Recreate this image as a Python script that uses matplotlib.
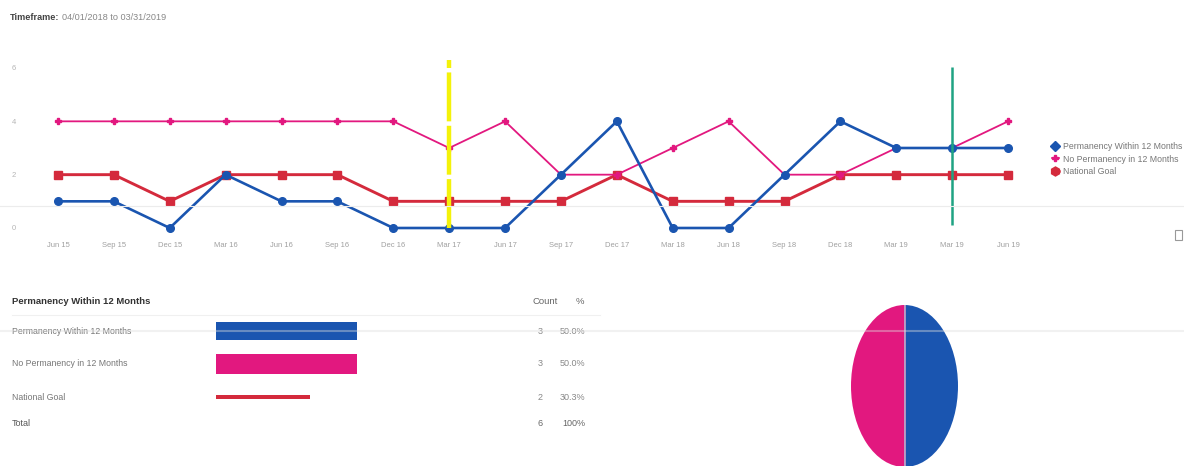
import matplotlib
matplotlib.use("Agg")
import matplotlib.pyplot as plt
from matplotlib.lines import Line2D
from matplotlib.text import Annotation

plt.rcParams['font.family'] = ['Liberation Sans', 'DejaVu Sans']

# ---- data ----
quarters = ["Jun 15", "Sep 15", "Dec 15", "Mar 16", "Jun 16", "Sep 16", "Dec 16",
            "Mar 17", "Jun 17", "Sep 17", "Dec 17", "Mar 18", "Jun 18", "Sep 18",
            "Dec 18", "Mar 19", "Mar 19", "Jun 19"]
permanency = [1, 1, 0, 2, 1, 1, 0, 0, 0, 2, 4, 0, 0, 2, 4, 3, 3, 3]
no_permanency = [4, 4, 4, 4, 4, 4, 4, 3, 4, 2, 2, 3, 4, 2, 2, 3, 3, 4]
national_goal = [2, 2, 1, 2, 2, 2, 1, 1, 1, 1, 2, 1, 1, 1, 2, 2, 2, 2]
y_ticks = [0, 2, 4, 6]
marker_quarters = [7, 16]  # yellow and green reference lines

series_names = ["Permanency Within 12 Months", "No Permanency in 12 Months", "National Goal"]
counts = [3, 3, 2]
percents = ["50.0%", "50.0%", "30.3%"]
total_count = 6
total_percent = "100%"

BLUE = "#1a55b0"
PINK = "#e2187f"
RED = "#d42a3c"

W, H = 1184, 466
fig = plt.figure(figsize=(W / 100, H / 100), dpi=100)
fig.patch.set_facecolor("white")


def fx(px):
    return px / W


def fy(py):
    return 1 - py / H


# ---- title ----
t_label = fig.text(fx(10), fy(17), "Timeframe:", fontsize=6.6, color="#444444",
                   fontweight="bold", va="center", ha="left")
fig.add_artist(Annotation("04/01/2018 to 03/31/2019", xy=(1, 0.5), xycoords=t_label,
                          xytext=(2, 0), textcoords="offset points", fontsize=6.6,
                          color="#888888", va="center", ha="left"))

# ---- line chart ----
ax = fig.add_axes([fx(30), fy(236), fx(1036) - fx(30), fy(60) - fy(236)])
x = list(range(len(quarters)))
ax.plot(x, permanency, color=BLUE, lw=1.9, marker="o", ms=5.5, zorder=4,
        label=series_names[0])
ax.plot(x, no_permanency, color=PINK, lw=1.3, marker="P", ms=4, zorder=3,
        label=series_names[1])
ax.plot(x, national_goal, color=RED, lw=2.1, marker="s", ms=5.5, zorder=2,
        label=series_names[2])

ax.vlines(marker_quarters[0], 0, 6.35, color="#f4f20a", lw=3.2,
          linestyles=[(0, (11, 1.0))], zorder=5)
ax.vlines(marker_quarters[1], 0.1, 6.05, color="#1fa383", lw=1.8, zorder=5)

ax.set_xlim(-0.5, len(quarters) - 0.5)
ax.set_ylim(-0.3, 6.3)
ax.set_xticks(x)
ax.set_xticklabels(quarters, fontsize=5.5, color="#a0a0a0")
ax.set_yticks(y_ticks)
ax.set_yticklabels([str(v) for v in y_ticks], fontsize=5.5, color="#b5b5b5")
ax.tick_params(length=0, pad=4)
ax.tick_params(axis="y", pad=10)
for s in ax.spines.values():
    s.set_visible(False)

# legend
handles = [
    Line2D([], [], color=BLUE, marker="D", ms=5, lw=1.5),
    Line2D([], [], color=PINK, marker="P", ms=5, lw=1.2),
    Line2D([], [], color=RED, marker="h", ms=6.5, lw=1.8),
]
fig.legend(handles, series_names, loc="center left",
           bbox_to_anchor=(fx(1048), fy(159)), frameon=False, fontsize=6.3,
           labelcolor="#777777", handlelength=0.9, handletextpad=0.4,
           labelspacing=0.4, borderaxespad=0)

# faint horizontal rule
fig.add_artist(Line2D([0, 1], [fy(206), fy(206)], color="#ececec", lw=0.8))

# small export icon
fig.add_artist(plt.Rectangle((fx(1175), fy(240)), fx(7), 10 / H, fill=False,
                             ec="#999999", lw=0.8))

# ---- table ----
fig.text(fx(12), fy(302), "Permanency Within 12 Months", fontsize=6.8,
         color="#333333", fontweight="bold", va="center", ha="left")
fig.text(fx(558), fy(302), "Count", fontsize=6.8, color="#666666", va="center", ha="right")
fig.text(fx(584), fy(302), "%", fontsize=6.8, color="#666666", va="center", ha="right")

row_y = [331, 364, 397]
for name, c, p, ry in zip(series_names, counts, percents, row_y):
    fig.text(fx(12), fy(ry), name, fontsize=6.3, color="#777777", va="center", ha="left")
    fig.text(fx(543), fy(ry), str(c), fontsize=6.5, color="#888888", va="center", ha="right")
    fig.text(fx(585), fy(ry), p, fontsize=6.5, color="#888888", va="center", ha="right")
fig.text(fx(12), fy(423), "Total", fontsize=6.5, color="#555555", va="center", ha="left")
fig.text(fx(543), fy(423), str(total_count), fontsize=6.5, color="#666666",
         va="center", ha="right")
fig.text(fx(585), fy(423), total_percent, fontsize=6.5, color="#666666",
         va="center", ha="right")

# horizontal bars
axb = fig.add_axes([fx(216), fy(413.5), fx(357) - fx(216), fy(314.5) - fy(413.5)])
bar_heights = [0.52, 0.58, 0.13]
axb.barh(range(len(counts)), counts, height=bar_heights,
         color=[BLUE, PINK, RED], edgecolor="none")
axb.set_xlim(0, max(counts))
axb.set_ylim(len(counts) - 0.5, -0.5)
axb.axis("off")

fig.add_artist(Line2D([fx(12), fx(600)], [fy(315), fy(315)], color="#f0f0f0", lw=0.8))

# ---- pie ----
axp = fig.add_axes([fx(851), fy(467), fx(958) - fx(851), (467 - 305) / H])
axp.pie([counts[1], counts[0]], colors=[PINK, BLUE], startangle=90,
        counterclock=True, radius=1, wedgeprops=dict(linewidth=0))
axp.axvline(0, color="#c9a3c6", lw=1.2)
axp.set_aspect("auto")
axp.set_xlim(-1, 1)
axp.set_ylim(-1, 1)
axp.axis("off")

fig.add_artist(Line2D([0, 1], [fy(331), fy(331)], color="#dddddd", lw=1.5, alpha=0.4,
                      zorder=10))

fig.savefig("out.png", dpi=100, facecolor="white")
